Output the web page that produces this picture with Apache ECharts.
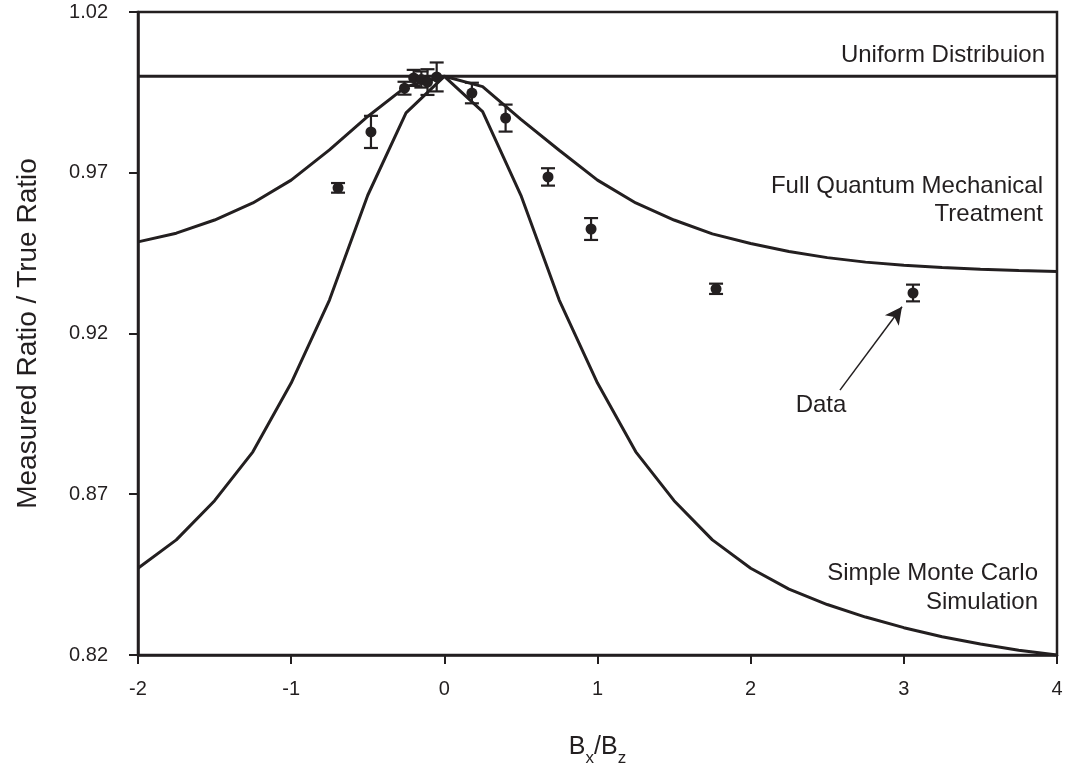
<!DOCTYPE html>
<html>
<head>
<meta charset="utf-8">
<script src="https://cdn.jsdelivr.net/npm/echarts@6/dist/echarts.min.js"></script>
<style>html,body{margin:0;padding:0;background:#fff}#c{width:1069px;height:773px}</style>
</head>
<body>
<div id="c"></div>
<script>
// ---- data ----
const xGrid = [-2,-1.75,-1.5,-1.25,-1,-0.75,-0.5,-0.25,0,0.25,0.5,0.75,1,1.25,1.5,1.75,2,2.25,2.5,2.75,3,3.25,3.5,3.75,4];
const quantumVals = [0.9485,0.9512,0.9553,0.9606,0.9677,0.9771,0.9875,0.9968,1.0,0.9968,0.9866,0.9770,0.9677,0.9606,0.9553,0.9510,0.9480,0.9455,0.9436,0.9422,0.9412,0.9405,0.9400,0.9396,0.9393];
const monteCarloVals = [0.8470,0.8558,0.8680,0.8832,0.9046,0.9304,0.9630,0.9886,1.0,0.9890,0.9630,0.9304,0.9046,0.8832,0.8680,0.8558,0.8470,0.8405,0.8357,0.8318,0.8285,0.8257,0.8234,0.8215,0.8200];
const uniformX = [-2, 4];
const uniformVals = [1.0, 1.0];
const dataX   = [-0.694,-0.479,-0.26,-0.20,-0.15,-0.11,-0.05,0.18,0.40,0.677,0.958,1.774,3.06];
const dataY   = [0.9653,0.9827,0.9963,0.9995,0.9990,0.9982,0.9998,0.9948,0.9870,0.9687,0.9525,0.9339,0.9326];
const dataErr = [0.0015,0.0050,0.0020,0.0025,0.0025,0.0040,0.0045,0.0032,0.0042,0.0027,0.0034,0.0016,0.0026];
const xTicks = [-2,-1,0,1,2,3,4];
const yTicks = [0.82,0.87,0.92,0.97,1.02];
const arrowFrom = [2.583, 0.9024];
const arrowTo = [2.988, 0.9283];

// ---- chart ----
const INK = '#231f20';
const FONT = '"Liberation Sans", Arial, Helvetica, sans-serif';
const chart = echarts.init(document.getElementById('c'), null, {renderer: 'canvas'});

const pts = (xs, ys) => xs.map((x, i) => [x, ys[i]]);

const option = {
  animation: false,
  backgroundColor: '#fff',
  grid: {left: 138, right: 12, top: 12, bottom: 118, show: true, borderColor: INK, borderWidth: 2.5, backgroundColor: 'transparent'},
  xAxis: {
    type: 'value', min: xTicks[0], max: xTicks[xTicks.length - 1], interval: 1,
    axisLine: {show: true, onZero: false, lineStyle: {color: INK, width: 2.5}},
    axisTick: {show: true, inside: false, length: 9, lineStyle: {color: INK, width: 2}},
    splitLine: {show: false},
    axisLabel: {color: INK, fontSize: 20, fontFamily: FONT, margin: 24},
    name: '{n|B}{s|x}{n|/B}{s|z}',
    nameLocation: 'middle', nameGap: 80,
    nameTextStyle: {
      color: INK, fontFamily: FONT,
      rich: {
        n: {fontSize: 25, fontFamily: FONT, color: INK, padding: [0, 0, 7, 0], verticalAlign: 'bottom'},
        s: {fontSize: 17, fontFamily: FONT, color: INK, padding: [0, 0, 0, 0], verticalAlign: 'bottom'}
      }
    }
  },
  yAxis: {
    type: 'value', min: yTicks[0], max: yTicks[yTicks.length - 1], interval: 0.05,
    axisLine: {show: true, onZero: false, lineStyle: {color: INK, width: 2.5}},
    axisTick: {show: true, inside: false, length: 9, lineStyle: {color: INK, width: 2}},
    splitLine: {show: false},
    axisLabel: {color: INK, fontSize: 20, fontFamily: FONT, margin: 30, formatter: v => v.toFixed(2)},
    name: 'Measured Ratio / True Ratio',
    nameLocation: 'middle', nameGap: 96,
    nameTextStyle: {color: INK, fontSize: 28, fontFamily: FONT}
  },
  series: [
    {
      name: 'Uniform Distribuion', type: 'line', data: pts(uniformX, uniformVals),
      showSymbol: false, symbol: 'none', lineStyle: {color: INK, width: 3}, z: 2
    },
    {
      name: 'Full Quantum Mechanical Treatment', type: 'line', data: pts(xGrid, quantumVals),
      showSymbol: false, symbol: 'none', lineStyle: {color: INK, width: 3}, z: 2
    },
    {
      name: 'Simple Monte Carlo Simulation', type: 'line', data: pts(xGrid, monteCarloVals),
      showSymbol: false, symbol: 'none', lineStyle: {color: INK, width: 3}, z: 2
    },
    {
      name: 'Error', type: 'custom', z: 3,
      data: dataX.map((x, i) => [x, dataY[i] - dataErr[i], dataY[i] + dataErr[i]]),
      renderItem: function (params, api) {
        const lo = api.coord([api.value(0), api.value(1)]);
        const hi = api.coord([api.value(0), api.value(2)]);
        const hw = 7;
        const st = {stroke: INK, lineWidth: 2.2};
        return {
          type: 'group',
          children: [
            {type: 'line', shape: {x1: lo[0], y1: lo[1], x2: hi[0], y2: hi[1]}, style: st},
            {type: 'line', shape: {x1: lo[0] - hw, y1: lo[1], x2: lo[0] + hw, y2: lo[1]}, style: st},
            {type: 'line', shape: {x1: hi[0] - hw, y1: hi[1], x2: hi[0] + hw, y2: hi[1]}, style: st}
          ]
        };
      }
    },
    {
      name: 'Data', type: 'scatter', z: 4,
      data: pts(dataX, dataY),
      symbol: 'circle', symbolSize: 11,
      itemStyle: {color: INK, opacity: 1},
      markLine: {
        silent: true, symbol: ['none', 'arrow'], symbolSize: [13, 17],
        lineStyle: {color: INK, width: 1.5, type: 'solid'},
        label: {show: false},
        data: [[{coord: arrowFrom}, {coord: arrowTo}]]
      }
    }
  ],
  graphic: [
    {type: 'text', x: 1045, y: 43, style: {text: 'Uniform Distribuion', fill: INK, font: '24px ' + FONT, align: 'right', verticalAlign: 'top'}},
    {type: 'text', x: 1043, y: 172, style: {text: 'Full Quantum Mechanical\nTreatment', fill: INK, font: '24px ' + FONT, align: 'right', verticalAlign: 'top', lineHeight: 28}},
    {type: 'text', x: 1038, y: 559, style: {text: 'Simple Monte Carlo\nSimulation', fill: INK, font: '24px ' + FONT, align: 'right', verticalAlign: 'top', lineHeight: 29}},
    {type: 'text', x: 821, y: 393, style: {text: 'Data', fill: INK, font: '24px ' + FONT, align: 'center', verticalAlign: 'top'}}
  ]
};
chart.setOption(option);
</script>
</body>
</html>
